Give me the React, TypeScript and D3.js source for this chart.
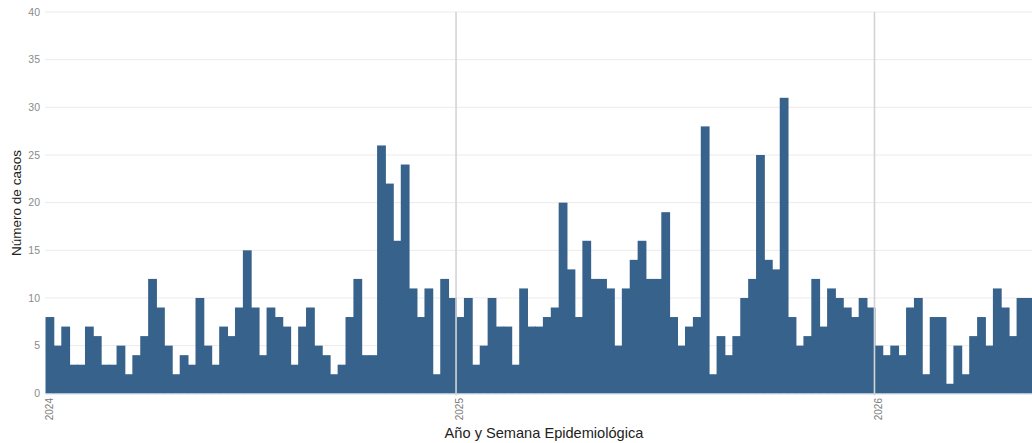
import React from "react";
import * as d3 from "d3";

const cases2024 = [8,5,7,3,3,7,6,3,3,5,2,4,6,12,9,5,2,4,3,10,5,3,7,6,9,15,9,4,9,8,7,3,7,9,5,4,2,3,8,12,4,4,26,22,16,24,11,8,11,2,12,10];
const cases2025 = [8,10,3,5,10,7,7,3,11,7,7,8,9,20,13,8,16,12,12,11,5,11,14,16,12,12,19,8,5,7,8,28,2,6,4,6,10,12,25,14,13,31,8,5,6,12,7,11,10,9,8,10,9];
const cases2026 = [5,4,5,4,9,10,2,8,8,1,5,2,6,8,5,11,9,6,10,10];
const years = ["2024", "2025", "2026"];
const yTicks = [0, 5, 10, 15, 20, 25, 30, 35, 40];

const W = 1032;
const H = 443;
const FONT = "'Liberation Sans', Arial, sans-serif";

type Week = { key: string; year: string; week: number; value: number };

const data: Week[] = [
  ...cases2024.map((v, i) => ({ key: `2024-${i + 1}`, year: "2024", week: i + 1, value: v })),
  ...cases2025.map((v, i) => ({ key: `2025-${i + 1}`, year: "2025", week: i + 1, value: v })),
  ...cases2026.map((v, i) => ({ key: `2026-${i + 1}`, year: "2026", week: i + 1, value: v })),
];

export default function App() {
  const x = d3
    .scaleBand<string>()
    .domain(data.map((d) => d.key))
    .range([45.5, 45.5 + data.length * 7.895])
    .paddingInner(0)
    .paddingOuter(0);
  const y = d3.scaleLinear().domain([0, 40]).range([393.3, 12]);
  const bw = x.bandwidth();

  return (
    <svg
      width={W}
      height={H}
      style={{ position: "absolute", left: 0, top: 0, background: "#fff" }}
      fontFamily={FONT}
    >
      {/* horizontal grid */}
      {yTicks.map((t) => (
        <line key={t} x1={45} x2={W} y1={y(t)} y2={y(t)} stroke="#ebebeb" strokeWidth={1} />
      ))}
      {/* bars */}
      {data.map((d) => (
        <rect
          key={d.key}
          x={x(d.key)!}
          y={y(d.value)}
          width={bw + 0.9}
          height={y(0) - y(d.value)}
          fill="#37628b"
        />
      ))}
      <line x1={45.5} x2={W} y1={y(0) + 0.5} y2={y(0) + 0.5} stroke="#a9c3da" strokeWidth={1} />
      {/* year gridlines */}
      {years.slice(1).map((yr) => (
        <line
          key={yr}
          x1={x(`${yr}-1`)!}
          x2={x(`${yr}-1`)!}
          y1={y(40)}
          y2={y(0) + 2}
          stroke="#d4d4d4"
          strokeWidth={1.6}
        />
      ))}
      {/* y tick labels */}
      {yTicks.map((t) => (
        <text key={t} x={40} y={y(t)} dy="0.35em" textAnchor="end" fontSize={10.5} fill="#8a8a8a">
          {t}
        </text>
      ))}
      {/* x tick labels */}
      {years.map((yr) => {
        const cx = x(`${yr}-1`)! + bw / 2;
        return (
          <text
            key={yr}
            transform={`translate(${cx},398) rotate(-90)`}
            dy="0.35em"
            textAnchor="end"
            fontSize={10}
            fill="#7a7a7a"
          >
            {yr}
          </text>
        );
      })}
      {/* axis titles */}
      <text x={544} y={438} textAnchor="middle" fontSize={14.6} fill="#222">
        Año y Semana Epidemiológica
      </text>
      <text transform="translate(21,203) rotate(-90)" textAnchor="middle" fontSize={13.5} fill="#222">
        Número de casos
      </text>
    </svg>
  );
}
